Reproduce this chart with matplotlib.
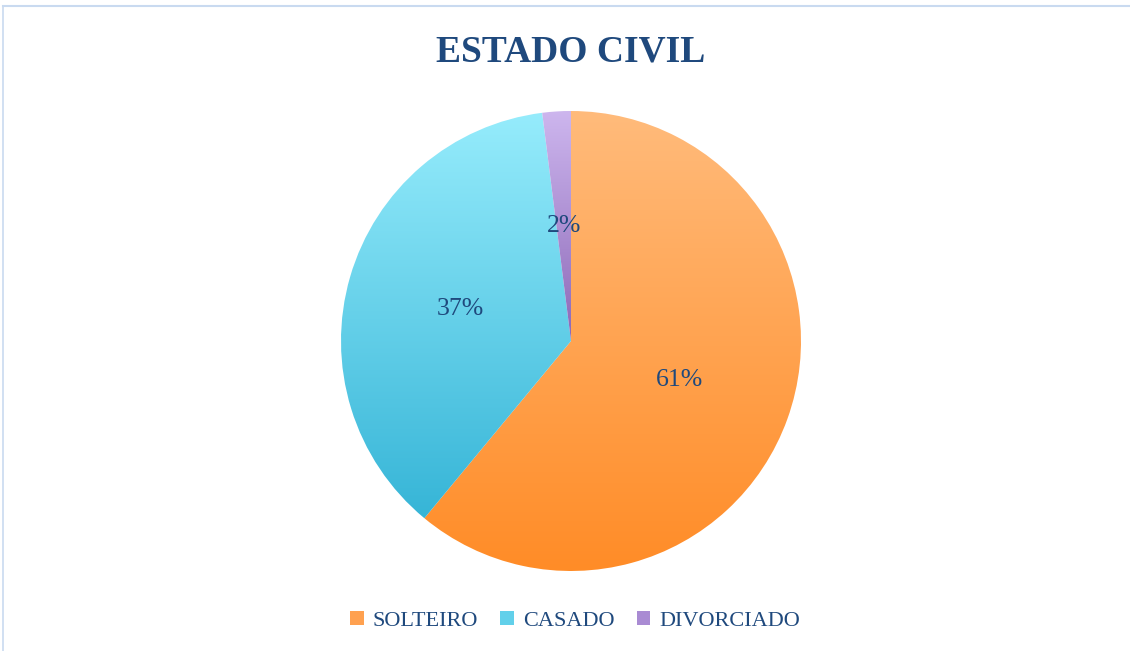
import numpy as np
import matplotlib
matplotlib.use("Agg")
import matplotlib.pyplot as plt
from matplotlib.colors import LinearSegmentedColormap
from matplotlib.patches import Patch
from matplotlib.lines import Line2D

# Data
categories = ["SOLTEIRO", "CASADO", "DIVORCIADO"]
values = [61, 37, 2]
# gradient colours (top, bottom) for each slice
top_colors = ["#FFBB7B", "#96ECFC", "#CDB6EE"]
bottom_colors = ["#FF8C27", "#36B5D7", "#8C68B7"]
legend_colors = ["#FFA150", "#62D0EA", "#A98BD3"]

TEXT_BLUE = "#1F497D"
FONT = ["Liberation Serif", "DejaVu Serif"]

fig = plt.figure(figsize=(11.3, 6.51), dpi=100)
fig.patch.set_facecolor("white")

# chart area border (top and left edges visible)
border = "#C9DAF0"
fig.add_artist(Line2D([3 / 1130, 1.0], [1 - 6 / 651, 1 - 6 / 651], color=border, lw=1.5,
                      transform=fig.transFigure))
fig.add_artist(Line2D([3 / 1130, 3 / 1130], [0.0, 1 - 6 / 651], color=border, lw=1.2,
                      transform=fig.transFigure))

ax = fig.add_axes([341 / 1130, (651 - 571) / 651, 460 / 1130, 460 / 651])
ax.set_xlim(-1, 1)
ax.set_ylim(-1, 1)
ax.set_aspect("equal")
ax.axis("off")

wedges, texts, autotexts = ax.pie(
    values, startangle=90, counterclock=False, radius=1.0,
    autopct="%1.0f%%", pctdistance=0.5,
    wedgeprops=dict(linewidth=0),
    textprops=dict(color=TEXT_BLUE, fontsize=18.5, family=FONT),
)

# vertical gradient fill, clipped to each wedge
grad = np.linspace(0, 1, 256).reshape(-1, 1)
for w, c_top, c_bot in zip(wedges, top_colors, bottom_colors):
    w.set_facecolor("none")
    ext = w.get_path().get_extents()
    cmap = LinearSegmentedColormap.from_list("g", [c_top, c_bot])
    im = ax.imshow(grad, cmap=cmap, aspect="auto", origin="upper",
                   extent=(ext.x0, ext.x1, ext.y0, ext.y1), zorder=0.5)
    im.set_clip_path(w)
ax.set_xlim(-1, 1)
ax.set_ylim(-1, 1)

for t in autotexts:
    t.set_zorder(5)

fig.text(571 / 1130, 1 - 52 / 651, "ESTADO CIVIL", ha="center", va="center",
         fontsize=27, fontweight="bold", color=TEXT_BLUE, family=FONT)

handles = [Patch(facecolor=c, edgecolor="none") for c in legend_colors]
leg = fig.legend(handles, categories, loc="center", bbox_to_anchor=(575 / 1130, 1 - 621 / 651),
                 ncol=3, frameon=False, handlelength=0.62, handleheight=0.62,
                 handletextpad=0.4, columnspacing=1.0,
                 prop=dict(family=FONT, size=16))
for t in leg.get_texts():
    t.set_color(TEXT_BLUE)

fig.savefig("out.png", dpi=100)
